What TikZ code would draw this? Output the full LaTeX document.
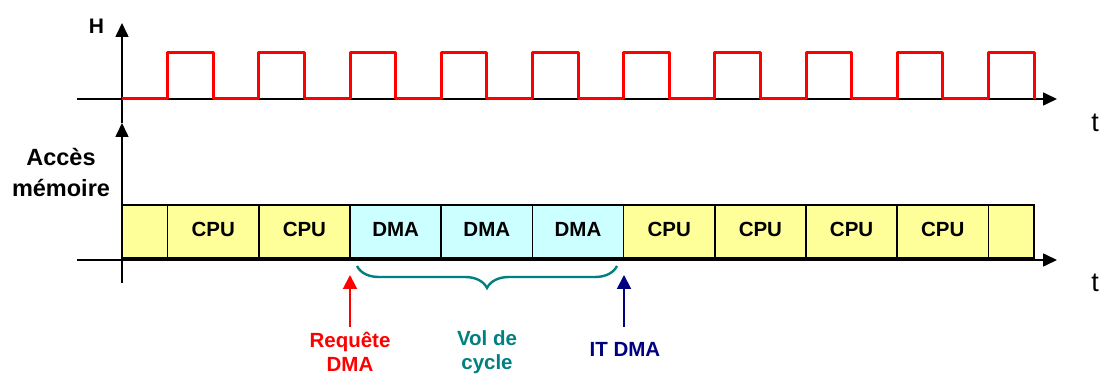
\documentclass[tikz,border=0pt]{standalone}
\usepackage{fontspec}
\setmainfont{Liberation Sans}
\usetikzlibrary{arrows.meta,decorations.pathreplacing}
\definecolor{clk}{HTML}{FF0000}
\definecolor{cpuyel}{HTML}{FFFF99}
\definecolor{dmacyan}{HTML}{CCFFFF}
\definecolor{tealc}{HTML}{008080}
\definecolor{navyc}{HTML}{000080}
\tikzset{
  axis/.style={line width=1.6pt,-{Triangle[width=13pt,length=14pt]}},
  clock/.style={line width=3pt,clk,line join=round},
  slot/.style={draw=black,line width=1.6pt,minimum width=91.2pt,minimum height=53pt,inner sep=0pt,outer sep=0pt,text depth=4.6pt,font=\fontsize{20.5}{24}\selectfont\bfseries},
  halfslot/.style={slot,minimum width=45.6pt},
  cpubox/.style={slot,fill=cpuyel},
  dmabox/.style={slot,fill=dmacyan},
  lbl/.style={font=\fontsize{20.5}{24}\selectfont\bfseries,align=center,inner sep=0pt},
  tlbl/.style={font=\fontsize{27}{30}\selectfont,inner sep=0pt},
  evarrow/.style={line width=2pt,-{Triangle[width=14pt,length=14pt]}}
}
\begin{document}
\begin{tikzpicture}[x=1pt,y=-1pt]
\useasboundingbox (0,0) rectangle (1101,374);
% axes
\coordinate (hx0) at (77,99);
\coordinate (hx1) at (1057,99);
\coordinate (hy0) at (122,123);
\coordinate (hy1) at (122,23);
\coordinate (mx0) at (77,260);
\coordinate (mx1) at (1057,260);
\coordinate (my0) at (122,283);
\coordinate (my1) at (122,123);
\draw[axis] (hx0) -- (hx1);
\draw[axis] (hy0) -- (hy1);
% clock
\draw[clock] (122,99) \foreach \i in {0,...,9} { -- ++(45.6,0) -- ++(0,-46) -- ++(45.6,0) -- ++(0,46) };
% labels
\node[lbl,font=\fontsize{21}{24}\selectfont\bfseries] (H) at (96.5,26) {H};
\node[tlbl] (t1) at (1095,123) {t};
\node[tlbl] (t2) at (1095,283) {t};
\node[lbl,font=\fontsize{23.5}{31}\selectfont\bfseries] (acc) at (61,172) {Accès\\mémoire};
% memory slots
\node[halfslot,fill=cpuyel] (s0) at (144.8,231.5) {};
\node[cpubox] (s1) at (213.2,231.5) {CPU};
\node[cpubox] (s2) at (304.4,231.5) {CPU};
\node[dmabox] (s3) at (395.6,231.5) {DMA};
\node[dmabox] (s4) at (486.8,231.5) {DMA};
\node[dmabox] (s5) at (578.0,231.5) {DMA};
\node[cpubox] (s6) at (669.2,231.5) {CPU};
\node[cpubox] (s7) at (760.4,231.5) {CPU};
\node[cpubox] (s8) at (851.6,231.5) {CPU};
\node[cpubox] (s9) at (942.8,231.5) {CPU};
\node[halfslot,fill=cpuyel] (s10) at (1011.2,231.5) {};
\draw[axis] (mx0) -- (mx1);
\draw[axis] (my0) -- (my1);
% events
\node[lbl,text=clk] (req) at (350,352) {Requête\\DMA};
\node[lbl,text=tealc] (vol) at (487,352) {Vol de\\cycle};
\node[lbl,text=navyc] (itd) at (625,349) {IT DMA};
\coordinate (reqtip) at (350,275);
\coordinate (reqfoot) at (350,327);
\coordinate (ittip) at (624,275);
\coordinate (itfoot) at (624,327);
\draw[evarrow,clk] (reqfoot) -- (reqtip);
\draw[evarrow,navyc] (itfoot) -- (ittip);
\coordinate (br0) at (357,266);
\coordinate (br1) at (617,266);
\draw[tealc,line width=2.4pt,decorate,decoration={brace,mirror,amplitude=22pt,raise=0pt}] (br0) -- (br1);
\end{tikzpicture}
\end{document}
